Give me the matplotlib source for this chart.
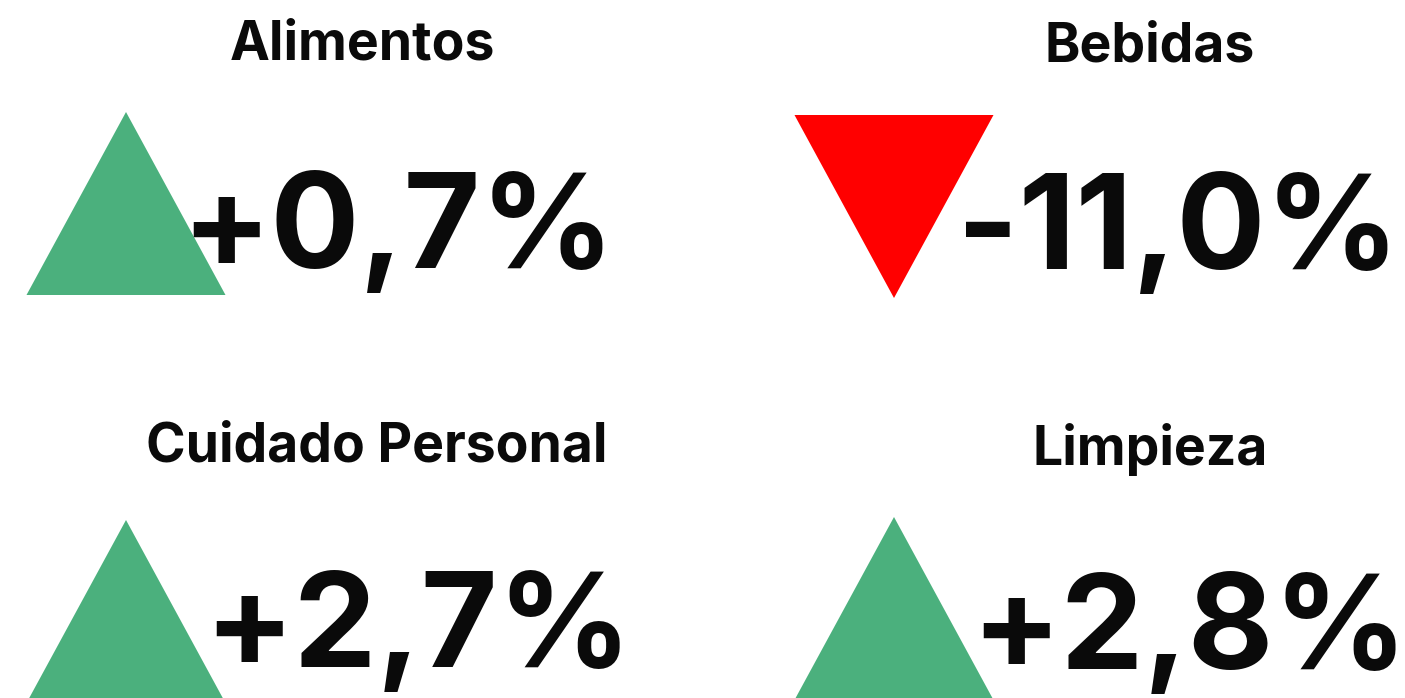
import matplotlib.pyplot as plt
from matplotlib.patches import Polygon

plt.rcParams['font.family'] = ['Inter', 'DejaVu Sans']

categories = ['Alimentos', 'Bebidas', 'Cuidado Personal', 'Limpieza']
changes = [0.7, -11.0, 2.7, 2.8]
labels = ['+0,7%', '-11,0%', '+2,7%', '+2,8%']

# layout in pixels: (triangle center x, triangle top y, value text x, value baseline, title x, title baseline)
layout = [
    (126, 112, 181, 268, 362, 59),
    (894, 115, 957, 269, 1150, 62),
    (126, 520, 204, 667, 377, 462),
    (894, 517, 971, 669, 1150, 465),
]
tri_w, tri_h = 199, 183

fig = plt.figure(figsize=(14.05, 6.98), dpi=100)
ax = fig.add_axes([0, 0, 1, 1])
ax.set_xlim(0, 1405)
ax.set_ylim(698, 0)
ax.axis('off')

for cat, ch, lab, (cx, ty, vx, vy, tx, tyb) in zip(categories, changes, labels, layout):
    if ch >= 0:
        pts = [(cx, ty), (cx - tri_w / 2, ty + tri_h), (cx + tri_w / 2, ty + tri_h)]
        col = '#4bb07d'
    else:
        pts = [(cx - tri_w / 2, ty), (cx + tri_w / 2, ty), (cx, ty + tri_h)]
        col = '#ff0000'
    ax.add_patch(Polygon(pts, closed=True, color=col, lw=0, zorder=1))
    ax.text(vx, vy, lab, ha='left', va='baseline', fontsize=95,
            fontweight='bold', color='#0a0a0a', zorder=2)
    ax.text(tx, tyb, cat, ha='center', va='baseline', fontsize=38.5,
            fontweight='bold', color='#0a0a0a')

fig.savefig('out.png', dpi=100)
